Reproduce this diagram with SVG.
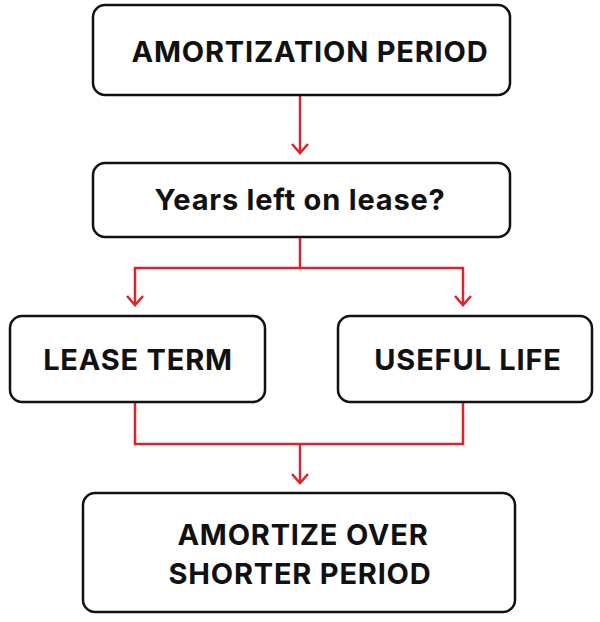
<svg xmlns="http://www.w3.org/2000/svg" width="600" height="622" viewBox="0 0 600 622">
<style>
.box{fill:#fff;stroke:#111;stroke-width:2.5}
.t{font-family:Inter,"Liberation Sans",sans-serif;font-weight:bold;font-size:29px;letter-spacing:0.8px;fill:#111;text-anchor:middle}
.c{fill:none;stroke:#d8262b;stroke-width:2.5}
</style>
<defs><marker id="a" markerWidth="20" markerHeight="20" refX="10" refY="10" orient="auto" markerUnits="userSpaceOnUse" viewBox="0 0 20 20"><path d="M1,2 L10,10 L1,18" fill="none" stroke="#d8262b" stroke-width="2.5"/></marker></defs>
<rect width="600" height="622" fill="#fff"/>
<g id="connectors">
<path class="c" d="M300,96 V153" marker-end="url(#a)"/>
<path class="c" d="M300,238 V268 H135 V305" marker-end="url(#a)"/>
<path class="c" d="M300,268 H463 V305" marker-end="url(#a)"/>
<path class="c" d="M135,403 V444 H463 V403"/>
<path class="c" d="M300,444 V483" marker-end="url(#a)"/>
</g>
<g id="n1"><rect class="box" x="93" y="5" width="417" height="90" rx="12"/><text class="t" x="310" y="62">AMORTIZATION PERIOD</text></g>
<g id="n2"><rect class="box" x="93" y="163" width="417" height="74" rx="12"/><text class="t" x="300" y="210">Years left on lease?</text></g>
<g id="n3"><rect class="box" x="10" y="316" width="255" height="86" rx="12"/><text class="t" x="138" y="370">LEASE TERM</text></g>
<g id="n4"><rect class="box" x="338" y="316" width="254" height="86" rx="12"/><text class="t" x="468" y="370">USEFUL LIFE</text></g>
<g id="n5"><rect class="box" x="83" y="493" width="432" height="119" rx="12"/><text class="t" x="303" y="545">AMORTIZE OVER</text><text class="t" x="300" y="584">SHORTER PERIOD</text></g>
</svg>
